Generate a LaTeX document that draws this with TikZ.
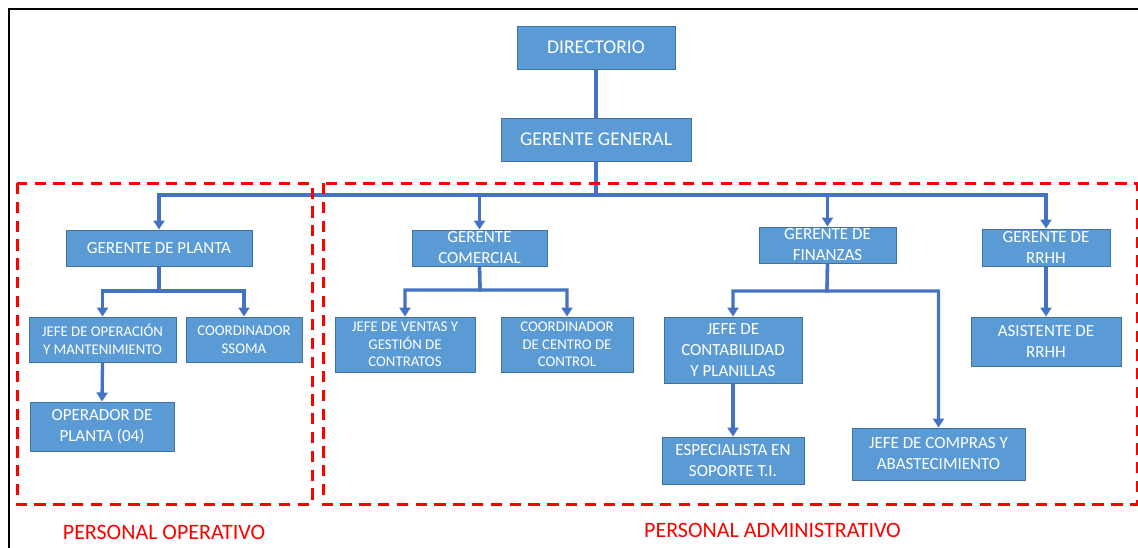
\documentclass[tikz,border=0pt]{standalone}
\usepackage{fontspec}
\setmainfont{Carlito}
\usetikzlibrary{arrows.meta}
\definecolor{boxfill}{HTML}{5B9BD5}
\definecolor{boxline}{HTML}{41719C}
\definecolor{linkblue}{HTML}{4472C4}
\definecolor{groupred}{HTML}{FF0000}
\begin{document}
\begin{tikzpicture}[x=1pt,y=-1pt,
  orgbox/.style={draw=boxline, line width=1pt, fill=boxfill, text=white,
    align=center, inner sep=0pt},
  big/.style={font=\fontsize{19.5}{23}\selectfont},
  mid/.style={font=\fontsize{17}{21}\selectfont},
  small/.style={font=\fontsize{14.8}{17.7}\selectfont},
  link/.style={draw=linkblue, line width=3.3pt},
  linkarrow/.style={link, -{Triangle[width=11pt,length=9pt]}},
  group/.style={draw=groupred, line width=3pt, dash pattern=on 11.3pt off 7.5pt},
  grouplabel/.style={text=groupred, font=\fontsize{22}{26}\selectfont}]

\useasboundingbox (0,0) rectangle (1138,547);
\draw[line width=2pt] (9,560) -- (9,9) -- (1150,9);

% top of the chart
\node[orgbox, big, minimum width=158pt, minimum height=43pt] (dir) at (596,47.5) {DIRECTORIO};
\node[orgbox, big, minimum width=190pt, minimum height=43pt] (gg) at (596,139.5) {GERENTE GENERAL};

% managers
\node[orgbox, mid, minimum width=186pt, minimum height=36pt] (gp) at (159,248) {GERENTE DE PLANTA};
\node[orgbox, mid, minimum width=135pt, minimum height=36pt] (gc) at (479.5,248) {GERENTE\\COMERCIAL};
\node[orgbox, mid, minimum width=137pt, minimum height=36pt] (gf) at (827.5,245) {GERENTE DE\\FINANZAS};
\node[orgbox, mid, minimum width=128pt, minimum height=37pt] (gr) at (1046,247.5) {GERENTE DE\\RRHH};

% operations staff
\node[orgbox, small, minimum width=147pt, minimum height=45pt] (jo) at (102.5,339.5) {JEFE DE OPERACIÓN\\Y MANTENIMIENTO};
\node[orgbox, small, minimum width=116pt, minimum height=45pt] (ss) at (244,339.5) {COORDINADOR\\SSOMA};
\node[orgbox, mid, minimum width=144pt, minimum height=49pt] (op) at (102,426.5) {OPERADOR DE\\PLANTA (04)};

% commercial staff
\node[orgbox, small, minimum width=140pt, minimum height=55pt] (jv) at (405,344.5) {JEFE DE VENTAS Y\\GESTIÓN DE\\CONTRATOS};
\node[orgbox, small, minimum width=132pt, minimum height=55pt] (cc) at (567,344.5) {COORDINADOR\\DE CENTRO DE\\CONTROL};

% finance staff
\node[orgbox, mid, minimum width=138pt, minimum height=66pt] (jc) at (733,350) {JEFE DE\\CONTABILIDAD\\Y PLANILLAS};
\node[orgbox, mid, minimum width=142pt, minimum height=47pt] (es) at (733,460.5) {ESPECIALISTA EN\\SOPORTE T.I.};
\node[orgbox, mid, minimum width=173pt, minimum height=52pt] (jcom) at (938.5,454) {JEFE DE COMPRAS Y\\ABASTECIMIENTO};

% human resources staff
\node[orgbox, mid, minimum width=150pt, minimum height=49pt] (as) at (1046,341.5) {ASISTENTE DE\\RRHH};

% connectors
\coordinate (bus) at (596,195);
\coordinate (gpfork) at (159,291);
\coordinate (gcfork) at (480,290);
\coordinate (gffork) at (827,291);

\draw[link] (dir.south) -- (gg.north);
\draw[link] (gg.south) -- (bus);
\draw[linkarrow] (bus) -| (gp.north);
\draw[linkarrow] (bus) -| (gc.north);
\draw[linkarrow] (bus) -| (gf.north);
\draw[linkarrow] (bus) -| (gr.north);

\draw[linkarrow] (gp.south) -- (gpfork) -| (jo.north);
\draw[linkarrow] (gp.south) -- (gpfork) -| (ss.north);
\draw[linkarrow] (jo.south) -- (op.north);

\draw[linkarrow] (gc.south) -- (gcfork) -| (jv.north);
\draw[linkarrow] (gc.south) -- (gcfork) -| (cc.north);

\draw[linkarrow] (gf.south) -- (gffork) -| (jc.north);
\draw[linkarrow] (gf.south) -- (gffork) -| (jcom.north);
\draw[linkarrow] (jc.south) -- (es.north);

\draw[linkarrow] (gr.south) -- (as.north);

% staff groups
\draw[group] (17,183) rectangle (312,504);
\draw[group] (323,183) rectangle (1137,504);
\node[grouplabel] (oplabel) at (164,532) {PERSONAL OPERATIVO};
\node[grouplabel] (adlabel) at (772.5,530) {PERSONAL ADMINISTRATIVO};
\end{tikzpicture}
\end{document}
